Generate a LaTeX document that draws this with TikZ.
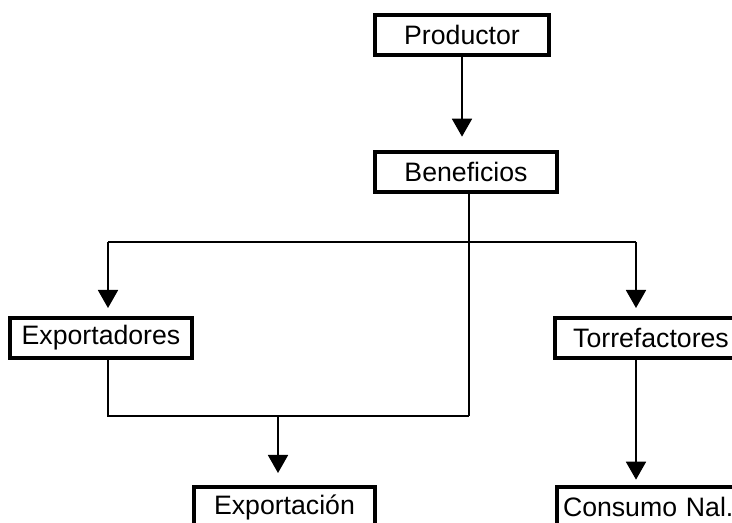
\documentclass[tikz,border=0pt]{standalone}
\usepackage{fontspec}
\setmainfont{Liberation Sans}
\usetikzlibrary{arrows.meta}

\begin{document}
\begin{tikzpicture}[x=0.75pt,y=-0.75pt,
  caja/.style={draw,line width=3pt,minimum height=30pt,inner sep=0pt,font=\fontsize{20}{24}\selectfont},
  linea/.style={line width=1.4pt},
  flecha/.style={linea,-{Triangle[length=13.5pt,width=15pt]},shorten >=6pt}]
\useasboundingbox (0,0) rectangle (732,523);
\clip (0,0) rectangle (732,523);
\node[caja,minimum width=130.5pt] (prod) at (462,35) {Productor};
\node[caja,minimum width=136.5pt] (ben) at (466,172) {Beneficios};
\node[caja,minimum width=136.5pt] (exp) at (101,338) {Exportadores};
\node[caja,minimum width=144pt] (torr) at (651,338) {Torrefactores};
\node[caja,minimum width=135.75pt] (expo) at (284.5,507) {Exportación};
\node[caja,anchor=west,inner xsep=4.5pt,text width=128pt,align=left] (cons) at (555,507) {Consumo Nal.};
\coordinate (izq) at (108,242);
\coordinate (der) at (636,242);
\coordinate (baja) at (278,416);
\coordinate (eje) at (469,416);
\draw [flecha,shorten >=10pt] (prod.south) -- (prod.south |- ben.north);
\draw [linea] (eje |- ben.south) -- (eje);
\draw [linea] (izq) -- (der);
\draw [flecha] (izq) -- (izq |- exp.north);
\draw [flecha] (der) -- (der |- torr.north);
\draw [linea] (izq |- exp.south) |- (eje);
\draw [flecha,shorten >=9pt] (baja) -- (baja |- expo.north);
\draw [flecha,shorten >=4pt] (der |- torr.south) -- (der |- cons.north);
\end{tikzpicture}
\end{document}
